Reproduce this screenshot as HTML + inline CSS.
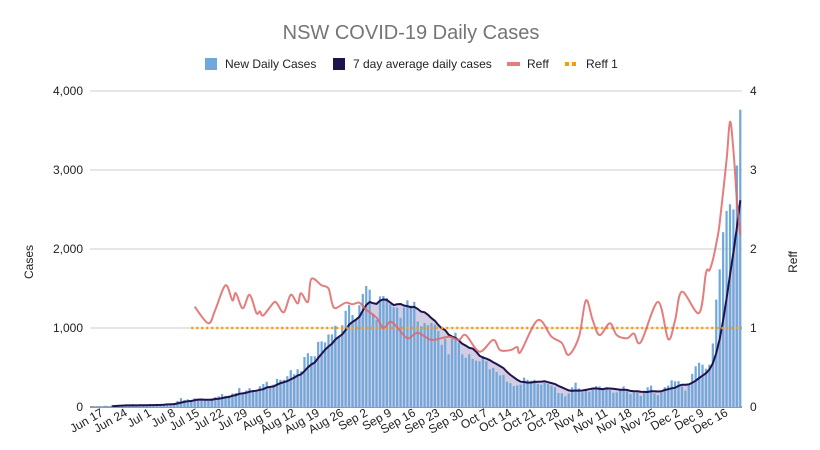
<!DOCTYPE html>
<html><head><meta charset="utf-8"><style>
body{margin:0;background:#fff;}
svg{display:block;font-family:"Liberation Sans",Arial,sans-serif;}
</style></head><body>
<svg id="chart" width="820" height="450" viewBox="0 0 820 450">
<text x="411" y="39" text-anchor="middle" font-size="20" fill="#757575">NSW COVID-19 Daily Cases</text>
<g font-size="12" fill="#222">
<g><rect x="205" y="58" width="12" height="12" fill="#6fa8dc"/><text x="225" y="68">New Daily Cases</text></g>
<g><rect x="333" y="58" width="12" height="12" fill="#20124d"/><text x="353" y="68">7 day average daily cases</text></g>
<g><rect x="507" y="62" width="13" height="4" fill="#e06666" opacity="0.85"/><text x="527" y="68">Reff</text></g>
<g><rect x="565" y="62" width="4" height="4" fill="#ff9900"/><rect x="572" y="62" width="4" height="4" fill="#ff9900"/><text x="586" y="68">Reff 1</text></g>
</g>
<text transform="translate(33,262) rotate(-90)" text-anchor="middle" font-size="12" fill="#222">Cases</text>
<text transform="translate(797,262) rotate(-90)" text-anchor="middle" font-size="12" fill="#222">Reff</text>
<g id="grid"></g><g id="fill"></g><g id="bars"></g><g id="lines"></g><g id="labels"></g>
</svg>
<script>
const startDate = [2021, 5, 16];
const cases = [0,3,11,4,16,10,27,
16,22,29,22,15,19,18,
22,24,31,35,16,35,27,
38,44,44,50,77,112,89,
97,65,111,105,83,98,78,
110,124,136,163,141,145,172,
177,239,170,210,239,199,207,
262,291,319,262,283,356,344,
345,390,466,415,478,452,633,
681,644,642,825,830,818,919,
919,1029,882,1035,1218,1290,1164,
1116,1288,1431,1533,1485,1180,1100,
1400,1405,1380,1300,1262,1257,1127,
1259,1351,1284,1331,1083,1022,1063,
1035,1063,1043,961,787,863,667,
864,941,813,667,623,667,608,
587,580,646,580,477,496,444,
399,406,319,301,265,273,283,
372,345,332,345,294,282,304,
293,268,250,177,173,135,173,
249,308,236,187,230,193,233,
263,261,220,250,216,180,185,
222,261,202,163,184,180,141,
206,250,271,172,150,208,251,
271,337,325,327,260,208,271,
420,516,560,536,485,536,804,
1360,1742,2213,2482,2566,2501,3057,
3763];
const reffDays = [30,34,36,39,41,42,44,46,48,49,50,53,54,56,58,60,61,63,64,67,69,70,71,74,76,78,80,83,85,87,89,92,95,99,104,107,109,113,117,119,122,124,125,130,134,137,139,142,144,146,148,151,153,156,158,160,165,168,170,172,177,179,180,181,182,183,185,186,187,188,189];
const reffValues = [1.27,1.06,1.23,1.54,1.35,1.44,1.25,1.42,1.19,1.21,1.16,1.32,1.31,1.20,1.42,1.31,1.44,1.33,1.62,1.54,1.50,1.32,1.25,1.32,1.30,1.32,1.23,1.13,1.0,1.08,1.01,0.87,0.94,0.85,0.89,0.85,0.91,0.70,0.85,0.72,0.72,0.76,0.70,1.10,0.89,0.81,0.66,0.89,1.35,1.10,0.91,1.06,0.91,0.87,0.93,0.82,1.33,0.86,1.10,1.46,1.19,1.70,1.73,1.86,2.07,2.33,3.13,3.61,3.25,2.62,2.18];
const reffOneStart = 29;
const leftTicks = [0,1000,2000,3000,4000];
const leftTickLabels = ["0","1,000","2,000","3,000","4,000"];
const rightTickLabels = ["0","1","2","3","4"];
const monthNames = ["Jan","Feb","Mar","Apr","May","Jun","Jul","Aug","Sep","Oct","Nov","Dec"];

const NS="http://www.w3.org/2000/svg";
const X0=90,X1=742,Y0=407,Y1=91;
const n=cases.length, bw=(X1-X0)/n;
const xc=i=>X0+(i+0.5)*bw;
const yL=v=>Y0-(v/4000)*(Y0-Y1);
const yR=v=>Y0-(v/4)*(Y0-Y1);
function mk(tag,attrs,parent){const e=document.createElementNS(NS,tag);for(const k in attrs)e.setAttribute(k,attrs[k]);document.getElementById(parent).appendChild(e);return e;}

leftTicks.forEach((t,k)=>{
  const g=mk('line',{x1:X0,x2:X1,y1:yL(t),y2:yL(t),stroke:t===0?'#333':'#ccc','stroke-width':1},'grid');
  
  
  const l=mk('text',{x:83,y:yL(t)+4,'text-anchor':'end','font-size':12,fill:'#222'},'labels');
  l.textContent=leftTickLabels[k];
  
  
  const r=mk('text',{x:750,y:yL(t)+4,'font-size':12,fill:'#222'},'labels');
  r.textContent=rightTickLabels[k];
  
  
});

const avg=[];
for(let i=6;i<n;i++){let s=0;for(let j=i-6;j<=i;j++)s+=cases[j];avg.push([i,s/7]);}
let d='M'+xc(avg[0][0])+','+Y0;
avg.forEach(p=>d+=' L'+xc(p[0]).toFixed(1)+','+yL(p[1]).toFixed(1));
d+=' L'+xc(avg[avg.length-1][0])+','+Y0+' Z';
const fa=mk('path',{d:d,fill:'#d2cde0'},'fill');



cases.forEach((v,i)=>{
  const b=mk('rect',{x:(xc(i)-1.1).toFixed(2),y:yL(v).toFixed(2),width:2.2,height:(Y0-yL(v)).toFixed(2),fill:'#6fa8dc'},'bars');
  
  
});

let ld='';
avg.forEach((p,k)=>ld+=(k?' L':'M')+xc(p[0]).toFixed(1)+','+yL(p[1]).toFixed(1));
const al=mk('path',{d:ld,fill:'none',stroke:'#20124d','stroke-width':2},'lines');



const r1=mk('line',{x1:xc(reffOneStart),x2:X1,y1:yR(1),y2:yR(1),stroke:'#ff9900','stroke-width':2.5,'stroke-dasharray':'2,3'},'lines');



const pts=reffDays.map((dd,k)=>[xc(dd),yR(reffValues[k])]);
let rd='M'+pts[0][0].toFixed(1)+','+pts[0][1].toFixed(1);
for(let i=0;i<pts.length-1;i++){
  const p0=pts[Math.max(0,i-1)],p1=pts[i],p2=pts[i+1],p3=pts[Math.min(pts.length-1,i+2)];
  const c1=[p1[0]+(p2[0]-p0[0])/6,p1[1]+(p2[1]-p0[1])/6],c2=[p2[0]-(p3[0]-p1[0])/6,p2[1]-(p3[1]-p1[1])/6];
  rd+=' C'+c1.map(v=>v.toFixed(1)).join(',')+' '+c2.map(v=>v.toFixed(1)).join(',')+' '+p2.map(v=>v.toFixed(1)).join(',');
}
const rl=mk('path',{d:rd,fill:'none',stroke:'#e06666','stroke-width':2,opacity:0.85},'lines');



for(let i=1;i<n;i+=7){
  const dt=new Date(startDate[0],startDate[1],startDate[2]+i);
  const x=xc(i)+9,y=415;
  const t=mk('text',{x:x,y:y,'text-anchor':'end','font-size':12,fill:'#222',transform:'rotate(-30 '+x+' '+y+')'},'labels');
  t.textContent=monthNames[dt.getMonth()]+' '+dt.getDate();
  
  
}
</script>
</body></html>
